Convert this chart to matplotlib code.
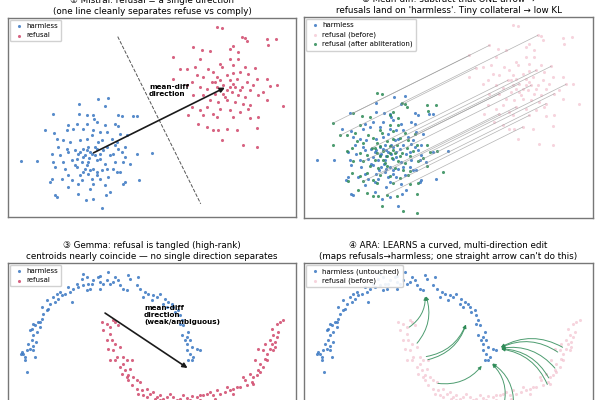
import numpy as np
import matplotlib
matplotlib.use("Agg")
import matplotlib.pyplot as plt

plt.rcParams['font.family'] = ['DejaVu Sans', 'Noto Sans CJK SC']

# projected activations (2-D, arbitrary units)
# --- Mistral: two separated blobs ---
harm_x = [238, 293, 325, 315, 160, 238, 262, 280, 283, 355, 365, 398, 410, 136, 163, 205, 230, 260, 290, 315,
          345, 355, 200, 220, 250, 280, 300, 320, 360, 380, 170, 190, 210, 240, 260, 275, 305, 335, 350, 175,
          200, 225, 250, 265, 290, 320, 345, 375, 155, 180, 205, 235, 255, 270, 300, 330, 365, 410, 455, 62,
          112, 160, 190, 215, 245, 265, 290, 315, 345, 370, 390, 165, 195, 230, 255, 280, 305, 340, 360, 205,
          240, 265, 290, 325, 350, 155, 185, 215, 245, 275, 300, 150, 235, 280, 315, 375, 418, 205, 270, 330,
          370, 165, 170, 235, 280, 318, 305, 258, 260, 275, 285, 268, 250, 240, 285, 295, 310, 262, 290, 270,
          248, 300, 230, 225, 320, 340, 355, 375]
harm_y = [267, 250, 248, 272, 297, 296, 298, 300, 310, 298, 303, 302, 302, 345, 352, 330, 325, 325, 320, 330,
          325, 332, 345, 340, 340, 345, 350, 350, 355, 360, 370, 375, 380, 375, 370, 360, 375, 370, 380, 395,
          400, 405, 400, 395, 400, 395, 390, 395, 415, 420, 410, 415, 420, 410, 415, 420, 410, 415, 413, 438,
          438, 440, 440, 435, 440, 440, 435, 445, 440, 440, 445, 455, 460, 455, 460, 460, 465, 460, 470, 480,
          480, 475, 480, 485, 470, 490, 490, 495, 495, 490, 490, 500, 505, 505, 510, 500, 495, 515, 520, 530,
          505, 540, 545, 535, 550, 540, 578, 555, 405, 415, 420, 428, 425, 410, 395, 380, 405, 450, 470, 465,
          470, 430, 430, 450, 460, 415, 400, 425]
ref_x = [650, 665, 725, 735, 800, 828, 740, 805, 580, 630, 605, 690, 700, 715, 520, 600, 690, 715, 660, 560,
         540, 625, 640, 665, 700, 735, 765, 590, 610, 650, 680, 700, 720, 745, 770, 800, 520, 575, 635, 660,
         690, 710, 740, 760, 810, 830, 560, 600, 620, 650, 670, 700, 725, 750, 790, 580, 610, 645, 670, 695,
         715, 735, 775, 630, 655, 680, 705, 730, 750, 800, 850, 565, 600, 620, 660, 690, 720, 745, 775, 650,
         700, 750, 595, 620, 640, 655, 680, 710, 770, 665, 728, 770, 610, 640, 575, 680, 690, 660, 705, 675,
         720, 645, 585]
ref_y = [35, 38, 65, 68, 72, 70, 78, 90, 95, 108, 105, 100, 92, 110, 125, 130, 130, 130, 145, 160,
         162, 160, 170, 155, 150, 155, 158, 180, 185, 185, 180, 172, 170, 175, 190, 190, 190, 200, 200, 195,
         195, 190, 200, 210, 212, 210, 210, 215, 222, 215, 210, 205, 215, 225, 230, 240, 240, 235, 235, 230,
         240, 245, 240, 255, 260, 255, 260, 265, 270, 255, 272, 300, 285, 275, 280, 285, 290, 280, 305, 305,
         305, 308, 325, 335, 345, 345, 340, 345, 338, 375, 390, 395, 300, 295, 275, 225, 215, 225, 215, 245,
         225, 200, 155]

# --- Gemma: two interleaved moons ---
moon_h_x = [82, 70, 65, 80, 90, 100, 105, 75, 85, 95, 100, 110, 95, 120, 100, 125, 130, 140, 125, 150,
            145, 165, 175, 160, 185, 195, 210, 220, 235, 250, 245, 260, 265, 280, 295, 300, 310, 320, 330, 325,
            345, 355, 360, 385, 390, 410, 415, 380, 420, 435, 445, 460, 470, 480, 495, 505, 515, 520, 535, 540,
            545, 550, 560, 570, 555, 575, 580, 565, 570, 590, 600, 540, 230, 205, 180, 140, 115, 90, 75, 62,
            260, 270, 300, 250, 300, 275, 340, 370, 430, 455, 490, 500, 525, 545, 560, 565, 575, 560, 120, 105,
            170, 215, 100, 108]
moon_h_y = [335, 280, 275, 270, 265, 270, 290, 300, 250, 240, 225, 215, 205, 200, 190, 175, 160, 150, 140, 130,
            145, 125, 115, 110, 105, 100, 95, 85, 80, 75, 55, 50, 70, 60, 50, 65, 70, 60, 70, 35,
            50, 60, 75, 45, 55, 75, 50, 90, 85, 95, 100, 105, 110, 100, 115, 125, 130, 140, 150, 165,
            180, 195, 230, 240, 240, 260, 290, 300, 280, 265, 270, 190, 70, 80, 95, 120, 185, 210, 290, 282,
            90, 85, 85, 42, 48, 72, 65, 85, 110, 120, 130, 140, 155, 225, 250, 215, 300, 270, 185, 195,
            100, 125, 258, 245]
moon_r_x = [305, 320, 345, 330, 310, 320, 335, 345, 325, 340, 360, 350, 345, 330, 370, 380, 395, 360, 375, 390,
            365, 380, 385, 400, 410, 420, 395, 410, 425, 440, 450, 460, 470, 480, 490, 500, 520, 540, 560, 575,
            590, 610, 620, 640, 660, 675, 690, 700, 710, 720, 740, 735, 755, 760, 770, 775, 780, 790, 780, 795,
            790, 800, 810, 820, 815, 825, 810, 820, 830, 835, 815, 830, 850, 840, 775, 765, 750, 730, 680, 650,
            630, 600, 550, 510, 430, 415, 385, 370, 330, 355, 440, 465, 480, 530, 570, 600, 645, 700, 760, 800,
            825, 795, 340]
moon_r_y = [185, 190, 185, 200, 210, 240, 240, 250, 265, 270, 260, 290, 300, 300, 310, 300, 300, 320, 330, 325,
            340, 350, 360, 350, 360, 365, 375, 385, 390, 385, 400, 395, 410, 405, 415, 410, 410, 415, 412, 408,
            410, 405, 400, 405, 400, 395, 390, 385, 380, 380, 375, 360, 365, 350, 345, 330, 335, 320, 310, 295,
            270, 280, 265, 270, 250, 245, 240, 225, 230, 215, 205, 190, 180, 185, 265, 300, 340, 350, 380, 390,
            395, 405, 405, 400, 405, 400, 345, 290, 220, 195, 410, 415, 420, 420, 420, 420, 415, 400, 370, 300,
            260, 250, 180]

# ARA learned edit: refusal sources -> harmless targets
ara_src_x = [331, 356, 381, 386, 416, 621, 651, 806, 791, 781, 761, 756]
ara_src_y = [205, 255, 290, 300, 368, 440, 440, 265, 280, 330, 360, 380]
ara_dst_x = [386, 386, 511, 511, 561, 581, 581, 606, 606, 606, 606, 606]
ara_dst_y = [100, 100, 185, 185, 310, 305, 305, 265, 265, 265, 265, 265]

BLUE = '#3b78c2'
RED = '#d0496c'
PINK = '#eeaabd'
GREEN = '#2e8b57'

hx, hy = np.array(harm_x), np.array(harm_y)
rx, ry = np.array(ref_x), np.array(ref_y)
mhx, mhy = np.array(moon_h_x), np.array(moon_h_y)
mrx, mry = np.array(moon_r_x), np.array(moon_r_y)

fig = plt.figure(figsize=(6, 4), dpi=100)
W, H = 600, 400


def box(l, t, w, h):
    return fig.add_axes([l / W, (H - t - h) / H, w / W, h / H])


ax1 = box(8, 18, 288, 199)
ax2 = box(304, 17, 289, 201)
ax3 = box(8, 263, 288, 199)
ax4 = box(304, 263, 289, 199)

tfs = 6.3
for ax in (ax1, ax2, ax3, ax4):
    ax.set_xticks([])
    ax.set_yticks([])
    for s in ax.spines.values():
        s.set_color('#777777')
        s.set_linewidth(1.0)

leg_kw = dict(loc='upper left', fontsize=5, scatterpoints=1, markerscale=1.0,
              borderpad=0.45, handletextpad=0.3, handlelength=1.6, labelspacing=0.45,
              framealpha=0.9, borderaxespad=0.3)
dot = 5

# panel 1
ax1.scatter(hx, hy, s=dot, c=BLUE, alpha=0.85, lw=0, label='harmless')
ax1.scatter(rx, ry, s=dot, c=RED, alpha=0.85, lw=0, label='refusal')
hm = np.array([hx.mean(), hy.mean()])
rm = np.array([rx.mean(), ry.mean()])
ax1.annotate('', xy=rm, xytext=hm,
             arrowprops=dict(arrowstyle='-|>', color='#1a1a1a', lw=1.2, mutation_scale=7))
mid = (hm + rm) / 2
d = rm - hm
perp = np.array([-d[1], d[0]]) / np.hypot(*d)
ax1.plot([mid[0] - 280 * perp[0], mid[0] + 280 * perp[0]],
         [mid[1] - 280 * perp[1], mid[1] + 280 * perp[1]],
         ls='--', color='#555555', lw=0.7)
ax1.text(0.49, 0.67, 'mean-diff\ndirection', transform=ax1.transAxes, fontsize=5.2,
         fontweight='bold', ha='left', va='top')
ax1.set_xlim(24, 888)
ax1.set_ylim(605, 8)
ax1.legend(**leg_kw)
ax1.set_title('① Mistral: refusal = a single direction\n(one line cleanly separates refuse vs comply)',
              fontsize=tfs, pad=3)

# panel 2
gx, gy = rx - d[0], ry - d[1]
ax2.scatter(hx, hy, s=dot, c=BLUE, alpha=0.85, lw=0, label='harmless')
ax2.scatter(rx, ry, s=dot, c=PINK, alpha=0.5, lw=0, label='refusal (before)')
ax2.scatter(gx, gy, s=dot, c=GREEN, alpha=0.85, lw=0, label='refusal (after abliteration)')
for i in range(2, len(rx), 6):
    ax2.plot([rx[i], gx[i]], [ry[i], gy[i]], color='#999999', lw=0.5, alpha=0.75)
ax2.set_xlim(23, 891)
ax2.set_ylim(613, 10)
ax2.legend(**leg_kw)
ax2.set_title("② Mean-diff: subtract that ONE arrow →\nrefusals land on 'harmless'. Tiny collateral → low KL",
              fontsize=tfs, pad=3)

# panel 3
ax3.scatter(mhx, mhy, s=dot, c=BLUE, alpha=0.85, lw=0, label='harmless')
ax3.scatter(mrx, mry, s=dot, c=RED, alpha=0.85, lw=0, label='refusal')
ax3.annotate('', xy=(mrx.mean(), mry.mean()), xytext=(mhx.mean(), mhy.mean()),
             arrowprops=dict(arrowstyle='-|>', color='#1a1a1a', lw=1.2, mutation_scale=7))
ax3.text(0.472, 0.79, 'mean-diff\ndirection\n(weak/ambiguous)', transform=ax3.transAxes,
         fontsize=5.2, fontweight='bold', ha='left', va='top')
ax3.set_xlim(24, 888)
ax3.set_ylim(605, 8)
ax3.legend(**leg_kw)
ax3.set_title('③ Gemma: refusal is tangled (high-rank)\ncentroids nearly coincide — no single direction separates',
              fontsize=tfs, pad=3)

# panel 4
ax4.scatter(mhx, mhy, s=dot, c=BLUE, alpha=0.85, lw=0, label='harmless (untouched)')
ax4.scatter(mrx, mry, s=dot, c=PINK, alpha=0.5, lw=0, label='refusal (before)')
for sx, sy, tx, ty in zip(ara_src_x, ara_src_y, ara_dst_x, ara_dst_y):
    ax4.annotate('', xy=(tx, ty), xytext=(sx, sy),
                 arrowprops=dict(arrowstyle='-|>', color=GREEN, lw=0.7, alpha=0.85,
                                 mutation_scale=5, connectionstyle='arc3,rad=0.3'))
ax4.set_xlim(22, 890)
ax4.set_ylim(605, 8)
ax4.legend(**leg_kw)
ax4.set_title("④ ARA: LEARNS a curved, multi-direction edit\n(maps refusals→harmless; one straight arrow can't do this)",
              fontsize=tfs, pad=3)

fig.savefig('out.png', dpi=100)
